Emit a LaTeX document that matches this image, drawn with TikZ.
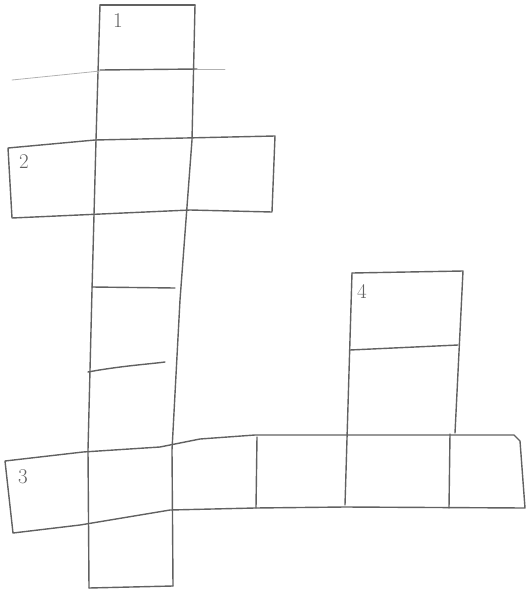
\documentclass[tikz,border=0pt]{standalone}
\usepackage{tikz}

\begin{document}
\begin{tikzpicture}[x=1pt,y=-1pt,line width=1.4pt,color=black!62,line join=round,line cap=round]
  \useasboundingbox (0,0) rectangle (527,595);
  \tikzset{nummer/.style={font=\fontsize{21}{21}\selectfont}}
  % Spalte 1 (senkrecht)
  \draw (100,5) -- (195,5);
  \draw (100,5) -- (96,140) -- (92,290) -- (88,450) -- (89,588);
  \draw (195,5) -- (192,140) -- (180,300) -- (172,450) -- (173,586);
  \draw (89,588) -- (173,586);
  \draw (100,70) -- (197,69);
  \draw (92,287) -- (175,288);
  \draw (88,372) .. controls (120,366) and (150,364) .. (165,362);
  % Hilfslinie
  \draw[black!30,line width=0.8pt] (12,80) -- (100,71);
  \draw[black!30,line width=0.8pt] (197,69) -- (225,69);
  % Wort 2 (waagrecht)
  \draw (8,148) -- (95,140) -- (275,136) -- (272,212) -- (190,210) -- (12,218) -- cycle;
  % Wort 3 (waagrecht)
  \draw (5,461) -- (83,452) -- (160,447) -- (200,439) -- (255,435) -- (514,435)
    -- (520,441) -- (525,508) -- (345,507) -- (255,508) -- (170,510)
    -- (80,525) -- (13,533) -- cycle;
  \draw (257,437) -- (256,508);
  \draw (450,434) -- (449,508);
  % Wort 4 (senkrecht)
  \draw (352,273) -- (463,271) -- (455,433);
  \draw (352,273) -- (345,505);
  \draw (350,350) -- (458,345);
  % Nummern
  \node[nummer] (l1) at (118,21) {1};
  \node[nummer] (l2) at (24,162) {2};
  \node[nummer] (l3) at (23,477) {3};
  \node[nummer] (l4) at (362,291) {4};
\end{tikzpicture}
\end{document}
